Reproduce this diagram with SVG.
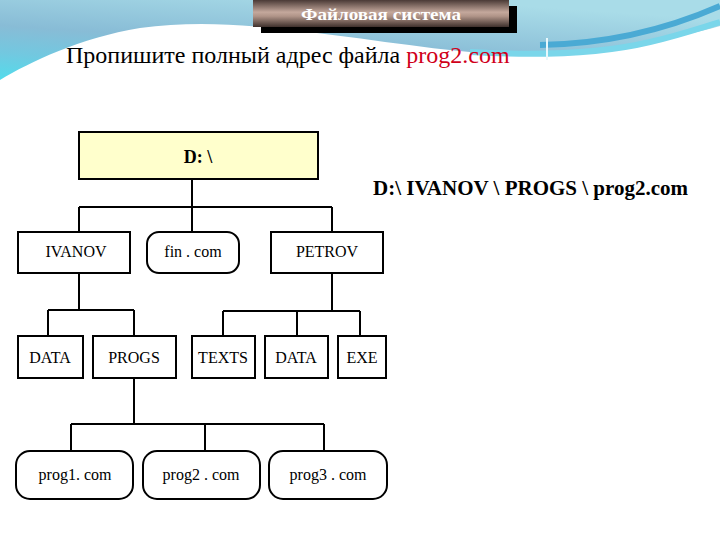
<svg xmlns="http://www.w3.org/2000/svg" width="720" height="540" viewBox="0 0 720 540">
<defs>
<linearGradient id="sky" x1="0" y1="1" x2="0.6" y2="0">
<stop offset="0" stop-color="#52dcec"/>
<stop offset="0.25" stop-color="#72c8e0"/>
<stop offset="0.5" stop-color="#88bcd6"/>
<stop offset="1" stop-color="#a9dce8"/>
</linearGradient>
<linearGradient id="banner" x1="0" y1="0" x2="0" y2="1">
<stop offset="0" stop-color="#4a3a36"/>
<stop offset="0.45" stop-color="#c4a89c"/>
<stop offset="0.6" stop-color="#b09488"/>
<stop offset="1" stop-color="#3e302c"/>
</linearGradient>
<style>
.box{fill:#ffffff;stroke:#000;stroke-width:2}
.lbl{font-family:"Liberation Serif","DejaVu Serif",serif;font-size:16px;fill:#000;text-anchor:middle}
.con{fill:none;stroke:#000;stroke-width:2}
</style>
</defs>
<rect width="720" height="540" fill="#ffffff"/>
<g id="background">
<path d="M0,80 C30,62 80,38 140,28 C190,21 240,24 290,30 C350,36 420,48 480,53 C520,56 580,55 630,45 C670,38 700,32 720,26 V0 H0 Z" fill="url(#sky)"/>
<path d="M470,52 C540,56 600,54 650,42 C680,35 700,28 720,22" fill="none" stroke="#7ad6ea" stroke-width="6"/>
<path d="M540,45 C610,44 670,28 720,6" fill="none" stroke="#4aaad4" stroke-width="6"/>
<line x1="547" y1="38" x2="547" y2="60" stroke="#e8f8fc" stroke-width="2"/>
</g>
<g id="title">
<rect x="261" y="6" width="256" height="27" fill="#000"/>
<rect x="253" y="0" width="256" height="27" fill="url(#banner)"/>
<text x="381" y="20" font-family="Liberation Serif, DejaVu Serif, serif" font-size="16" font-weight="bold" fill="#ffffff" text-anchor="middle" textLength="160" lengthAdjust="spacingAndGlyphs">Файловая система</text>
</g>
<text id="question" x="66" y="63" font-family="Liberation Serif, DejaVu Serif, serif" font-size="24" fill="#000">Пропишите полный адрес файла <tspan fill="#d0001a">prog2.com</tspan></text>
<text id="answer" x="373" y="195" font-family="Liberation Serif, DejaVu Serif, serif" font-size="21" font-weight="bold" fill="#000">D:\ IVANOV \ PROGS \ prog2.com</text>
<g id="connectors">
<path class="con" d="M192,179 V207 M79,207 H332 M79,207 V232 M192,207 V232 M332,207 V232"/>
<path class="con" d="M79,273 V310 M48,310 H134 M48,310 V336 M134,310 V336"/>
<path class="con" d="M332,273 V311 M223,311 H360 M223,311 V336 M297,311 V336 M360,311 V336"/>
<path class="con" d="M134,378 V424 M71,424 H324 M71,424 V451 M205,424 V451 M324,424 V451"/>
</g>
<g id="root"><rect x="79" y="132" width="239" height="47" fill="#ffffcc" stroke="#000" stroke-width="2"/><text x="198" y="163" font-family="Liberation Serif, DejaVu Serif, serif" font-size="18" font-weight="bold" text-anchor="middle">D: \</text></g>
<g id="ivanov"><rect class="box" x="18" y="232" width="112" height="41"/><text class="lbl" x="76" y="257">IVANOV</text></g>
<g id="fincom"><rect class="box" x="147" y="232" width="92" height="41" rx="12"/><text class="lbl" x="193" y="257">fin . com</text></g>
<g id="petrov"><rect class="box" x="271" y="232" width="112" height="41"/><text class="lbl" x="327" y="257">PETROV</text></g>
<g id="data1"><rect class="box" x="18" y="336" width="65" height="42"/><text class="lbl" x="50" y="363">DATA</text></g>
<g id="progs"><rect class="box" x="93" y="336" width="83" height="42"/><text class="lbl" x="134" y="363">PROGS</text></g>
<g id="texts"><rect class="box" x="192" y="336" width="63" height="42"/><text class="lbl" x="223" y="363">TEXTS</text></g>
<g id="data2"><rect class="box" x="265" y="336" width="63" height="42"/><text class="lbl" x="296" y="363">DATA</text></g>
<g id="exe"><rect class="box" x="338" y="336" width="48" height="42"/><text class="lbl" x="362" y="363">EXE</text></g>
<g id="prog1"><rect class="box" x="16" y="451" width="117" height="48" rx="14"/><text class="lbl" x="75" y="480">prog1. com</text></g>
<g id="prog2"><rect class="box" x="143" y="451" width="117" height="48" rx="14"/><text class="lbl" x="201" y="480">prog2 . com</text></g>
<g id="prog3"><rect class="box" x="269" y="451" width="118" height="48" rx="14"/><text class="lbl" x="328" y="480">prog3 . com</text></g>
</svg>
